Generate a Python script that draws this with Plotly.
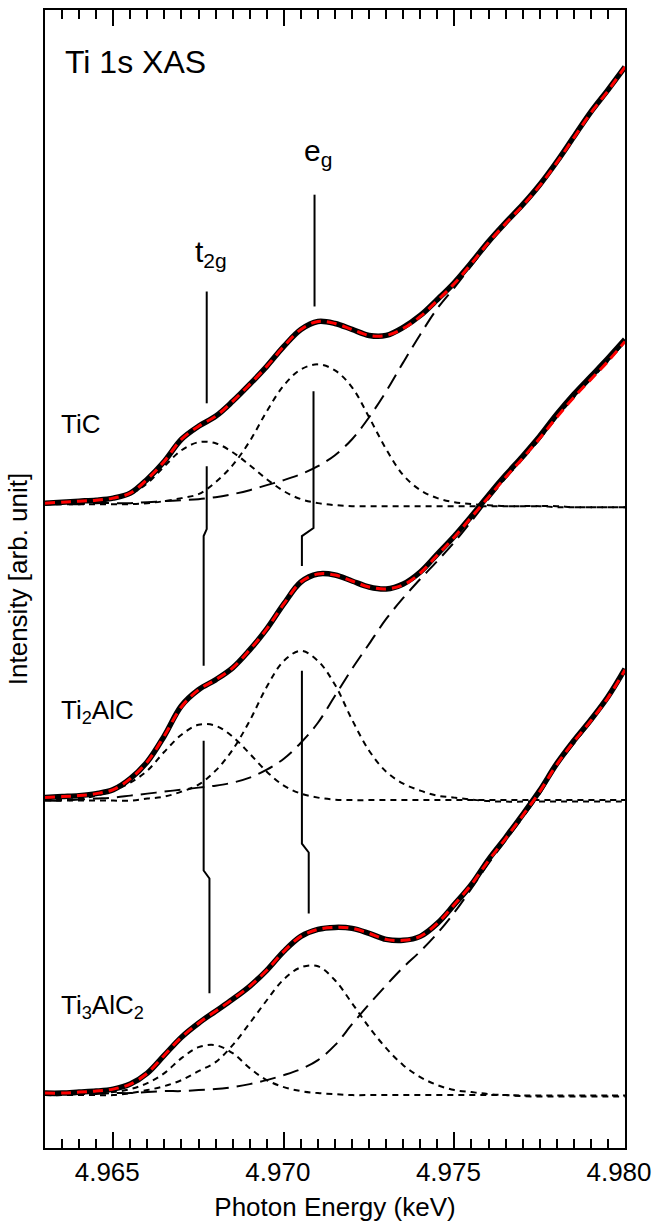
import plotly.graph_objects as go

# Photon energy grid (keV)
energy = [4.9630, 4.9635, 4.9640, 4.9645, 4.9650, 4.9655, 4.9660, 4.9665, 4.9670, 4.9675,
          4.9680, 4.9685, 4.9690, 4.9695, 4.9700, 4.9705, 4.9710, 4.9715, 4.9720, 4.9725,
          4.9730, 4.9735, 4.9740, 4.9745, 4.9750, 4.9755, 4.9760, 4.9765, 4.9770, 4.9775,
          4.9780, 4.9785, 4.9790, 4.9795, 4.9800]

# ---- TiC (offset spectrum, top) ----
tic_data = [64.6, 64.7, 64.8, 64.9, 65.1, 65.6, 67.0, 68.8, 71.0, 72.3,
            73.3, 74.8, 76.5, 78.3, 80.3, 82.0, 82.8, 82.6, 82.0, 81.4,
            81.4, 82.2, 83.4, 85.0, 86.7, 88.7, 90.8, 92.7, 94.5, 96.5,
            98.8, 101.3, 103.8, 106.0, 108.3]
tic_fit = [64.6, 64.7, 64.8, 64.9, 65.1, 65.6, 67.0, 68.8, 71.0, 72.3,
           73.3, 74.8, 76.5, 78.3, 80.3, 82.0, 82.8, 82.6, 82.0, 81.4,
           81.4, 82.1, 83.3, 84.9, 86.6, 88.6, 90.7, 92.6, 94.4, 96.4,
           98.7, 101.2, 103.7, 105.9, 108.3]
tic_t2g = [64.6, 64.6, 64.7, 64.8, 65.0, 65.5, 66.6, 68.3, 69.9, 70.7,
           70.6, 69.7, 68.4, 67.0, 65.8, 65.0, 64.6, 64.4, 64.3, 64.3,
           64.3, 64.3, 64.3, 64.3, 64.3, 64.3, 64.3, 64.3, 64.3, 64.3,
           64.2, 64.2, 64.2, 64.2, 64.2]
tic_eg = [64.5, 64.5, 64.5, 64.5, 64.5, 64.5, 64.6, 64.8, 65.1, 65.5,
          66.7, 68.4, 70.8, 73.8, 76.4, 78.0, 78.5, 77.9, 76.2, 73.2,
          70.0, 67.4, 65.9, 65.1, 64.7, 64.5, 64.4, 64.3, 64.3, 64.3,
          64.3, 64.2, 64.2, 64.2, 64.2]
tic_bg = [64.5, 64.5, 64.5, 64.6, 64.6, 64.6, 64.7, 64.8, 64.9, 65.0,
          65.2, 65.5, 65.9, 66.4, 66.9, 67.5, 68.3, 69.4, 71.0, 73.2,
          75.8, 78.7, 81.5, 84.1, 86.2, 88.4, 90.6, 92.6, 94.4, 96.4,
          98.7, 101.2, 103.7, 105.9, 108.3]

# ---- Ti2AlC (middle) ----
ti2alc_data = [35.1, 35.2, 35.3, 35.5, 35.9, 37.0, 38.7, 41.3, 44.3, 45.9,
               46.9, 48.1, 49.9, 52.0, 54.5, 56.7, 57.5, 57.4, 56.8, 56.2,
               56.0, 56.5, 57.7, 59.5, 61.3, 63.3, 65.4, 67.4, 69.3, 71.3,
               73.5, 75.5, 77.3, 79.1, 81.0]
ti2alc_fit = [35.1, 35.2, 35.3, 35.5, 35.9, 37.0, 38.7, 41.3, 44.2, 45.9,
              46.9, 48.1, 49.9, 52.0, 54.5, 56.7, 57.5, 57.4, 56.8, 56.2,
              56.0, 56.4, 57.6, 59.4, 61.2, 63.2, 65.2, 67.2, 69.1, 71.1,
              73.2, 75.2, 77.0, 78.8, 80.8]
ti2alc_t2g = [34.9, 34.9, 35.0, 35.3, 35.8, 36.6, 37.8, 39.7, 41.4, 42.4,
              42.3, 41.2, 39.5, 37.7, 36.3, 35.5, 35.1, 34.9, 34.85, 34.85,
              34.85, 34.85, 34.85, 34.85, 34.85, 34.85, 34.85, 34.85, 34.85, 34.85,
              34.85, 34.85, 34.85, 34.85, 34.85]
ti2alc_eg = [34.8, 34.8, 34.8, 34.8, 34.8, 34.8, 35.0, 35.2, 35.7, 36.4,
             37.8, 39.9, 42.8, 46.2, 48.8, 49.8, 48.8, 46.4, 42.9, 39.8,
             37.7, 36.5, 35.8, 35.3, 35.1, 34.9, 34.75, 34.7, 34.7, 34.7,
             34.7, 34.7, 34.7, 34.7, 34.7]
ti2alc_bg = [34.8, 34.8, 34.9, 35.0, 35.1, 35.3, 35.5, 35.7, 35.9, 36.1,
             36.3, 36.6, 37.1, 37.9, 39.0, 40.6, 42.6, 45.3, 48.0, 50.5,
             53.0, 55.1, 57.0, 58.8, 60.7, 62.8, 65.0, 67.1, 69.0, 71.0,
             73.2, 75.2, 77.0, 78.8, 80.8]

# ---- Ti3AlC2 (bottom) ----
ti3alc2_data = [5.5, 5.5, 5.6, 5.7, 5.9, 6.4, 7.5, 9.3, 11.1, 12.5,
                13.7, 14.9, 16.2, 17.8, 19.7, 21.2, 21.9, 22.1, 22.0, 21.5,
                20.9, 20.8, 21.2, 22.5, 24.4, 26.4, 28.9, 31.1, 33.4, 35.8,
                38.5, 40.8, 42.9, 45.2, 48.0]
ti3alc2_fit = [5.5, 5.5, 5.6, 5.7, 5.9, 6.4, 7.5, 9.3, 11.1, 12.5,
               13.7, 14.9, 16.2, 17.8, 19.7, 21.2, 21.9, 22.1, 22.0, 21.5,
               20.9, 20.8, 21.2, 22.5, 24.4, 26.4, 28.8, 31.0, 33.3, 35.7,
               38.4, 40.7, 42.8, 45.1, 47.9]
ti3alc2_t2g = [5.3, 5.3, 5.4, 5.5, 5.6, 5.9, 6.5, 7.5, 9.0, 10.1,
               10.3, 9.5, 8.0, 6.8, 6.1, 5.7, 5.5, 5.4, 5.3, 5.3,
               5.3, 5.3, 5.3, 5.3, 5.3, 5.3, 5.3, 5.3, 5.25, 5.25,
               5.25, 5.25, 5.25, 5.25, 5.25]
ti3alc2_eg = [5.3, 5.3, 5.3, 5.3, 5.3, 5.5, 5.8, 6.2, 6.8, 7.7,
              8.6, 10.3, 12.5, 14.8, 16.9, 18.1, 18.2, 16.8, 14.5, 12.1,
              10.0, 8.3, 7.1, 6.3, 5.8, 5.6, 5.4, 5.3, 5.2, 5.15,
              5.15, 5.15, 5.15, 5.15, 5.15]
ti3alc2_bg = [5.3, 5.3, 5.4, 5.4, 5.5, 5.5, 5.6, 5.7, 5.7, 5.8,
              5.9, 6.1, 6.4, 6.8, 7.3, 7.9, 8.8, 10.3, 12.4, 14.4,
              16.3, 18.1, 19.7, 21.5, 23.6, 26.0, 28.5, 30.8, 33.1, 35.5,
              38.3, 40.5, 42.7, 45.0, 47.8]

# Peak-position marker lines (energy, intensity); None = gap
t2g_mark_x = [4.96774, 4.96774, None, 4.96774, 4.96774, 4.96765, 4.96765, None,
              4.96765, 4.96765, 4.96782, 4.96782]
t2g_mark_y = [85.8, 74.6, None, 68.3, 62.0, 61.3, 48.3, None,
              40.8, 27.8, 27.0, 15.5]
eg_mark_x = [4.97090, 4.97090, None, 4.97087, 4.97087, 4.97053, 4.97053, None,
             4.97053, 4.97053, 4.97073, 4.97073]
eg_mark_y = [95.5, 84.3, None, 75.8, 62.1, 61.3, 58.3, None,
             47.8, 30.5, 29.6, 23.5]

sample_names = ["TiC", "Ti<sub>2</sub>AlC", "Ti<sub>3</sub>AlC<sub>2</sub>"]
sample_label_y = [72.55, 43.7, 14.2]

FONT = "Liberation Sans, Arial, sans-serif"

fig = go.Figure()

spectra = [
    (tic_data, tic_fit, tic_t2g, tic_eg, tic_bg),
    (ti2alc_data, ti2alc_fit, ti2alc_t2g, ti2alc_eg, ti2alc_bg),
    (ti3alc2_data, ti3alc2_fit, ti3alc2_t2g, ti3alc2_eg, ti3alc2_bg),
]

for data, fit, t2g, eg, bg in spectra:
    for comp in (t2g, eg):
        fig.add_trace(go.Scatter(x=energy, y=comp, mode="lines", line_shape="spline",
                                 line=dict(color="black", width=2, dash="6px,5px"),
                                 hoverinfo="skip", showlegend=False))
    fig.add_trace(go.Scatter(x=energy, y=bg, mode="lines", line_shape="spline",
                             line=dict(color="black", width=2, dash="16px,8px"),
                             hoverinfo="skip", showlegend=False))

for data, fit, t2g, eg, bg in spectra:
    fig.add_trace(go.Scatter(x=energy, y=data, mode="lines", line_shape="spline",
                             line=dict(color="black", width=5.5),
                             showlegend=False))
    fig.add_trace(go.Scatter(x=energy, y=fit, mode="lines", line_shape="spline",
                             line=dict(color="#ff0000", width=3, dash="10px,6px"),
                             showlegend=False))

for mx, my in ((t2g_mark_x, t2g_mark_y), (eg_mark_x, eg_mark_y)):
    fig.add_trace(go.Scatter(x=mx, y=my, mode="lines", connectgaps=False,
                             line=dict(color="black", width=2),
                             hoverinfo="skip", showlegend=False))

annotations = [
    dict(x=4.96352, y=108.75, text="Ti 1s XAS", font=dict(size=32)),
    dict(x=4.96733, y=89.6, text="t<sub>2g</sub>", font=dict(size=30)),
    dict(x=4.97053, y=99.7, text="e<sub>g</sub>", font=dict(size=30)),
]
for name, yy in zip(sample_names, sample_label_y):
    annotations.append(dict(x=4.96341, y=yy, text=name, font=dict(size=26)))
for a in annotations:
    a.update(xref="x", yref="y", xanchor="left", yanchor="middle", showarrow=False)
    a["font"].update(family=FONT, color="black")

fig.update_layout(
    width=660, height=1227,
    margin=dict(l=45, r=30, t=8, b=79),
    paper_bgcolor="white", plot_bgcolor="white",
    font=dict(family=FONT, size=26, color="black"),
    annotations=annotations,
    showlegend=False,
)
fig.update_xaxes(
    range=[4.963, 4.980], tick0=4.965, dtick=0.005, tickformat=".3f",
    ticks="inside", ticklen=16, tickwidth=2, tickcolor="black",
    tickfont=dict(family=FONT, size=26, color="black"),
    minor=dict(dtick=0.0005, ticks="inside", ticklen=9, tickwidth=2, tickcolor="black"),
    showline=True, linewidth=2, linecolor="black", mirror="ticks",
    showgrid=False, zeroline=False, ticklabelshift=-6,
    title=dict(text="Photon Energy (keV)", standoff=12,
               font=dict(family=FONT, size=26, color="black")),
)
fig.update_yaxes(
    range=[0, 114], showticklabels=False, ticks="",
    showline=True, linewidth=2, linecolor="black", mirror=True,
    showgrid=False, zeroline=False,
    title=dict(text="Intensity [arb. unit]", standoff=8,
               font=dict(family=FONT, size=26, color="black")),
)

fig.write_html("out.html")
